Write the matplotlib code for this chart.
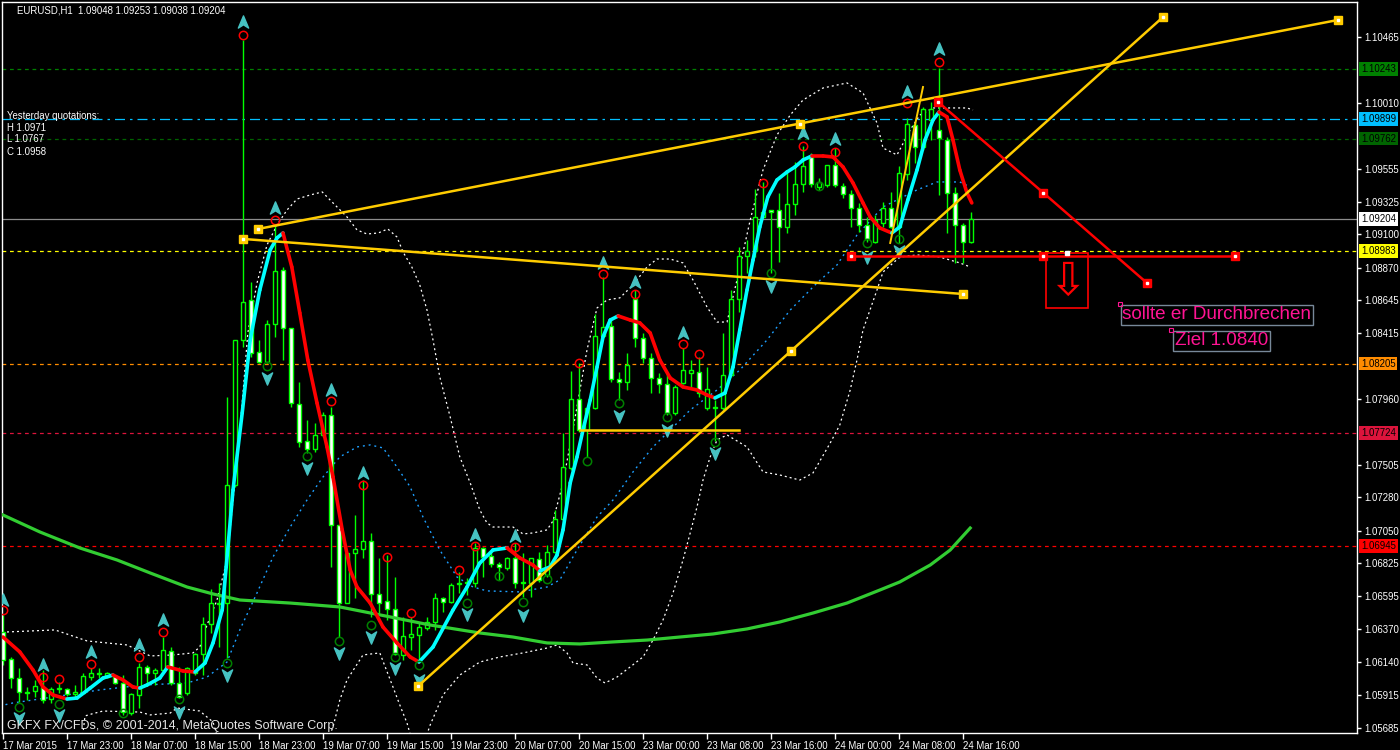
#!/usr/bin/env python3
"""
EURUSD H1 chart in MetaTrader style - candles, colour HMA, bands, trend lines.
"""

import numpy as np
import matplotlib
matplotlib.use("Agg")
import matplotlib.pyplot as plt
from matplotlib.path import Path
from matplotlib.collections import LineCollection
from matplotlib.patches import Rectangle

plt.rcParams['font.family'] = ['Liberation Sans', 'DejaVu Sans']

# 122 hourly bars, 17 Mar 15:00 -> 24 Mar 17:00
opens = [
    1.06349, 1.06162, 1.06030, 1.05934, 1.05941, 1.05968, 1.05885, 1.05954, 1.05954, 1.05920,
    1.05927, 1.06037, 1.06058, 1.06037, 1.06044, 1.05996, 1.05788, 1.05913, 1.06107, 1.06065,
    1.06086, 1.06217, 1.05996, 1.05927, 1.06065, 1.06197, 1.06404, 1.06543, 1.06549, 1.07366,
    1.08369, 1.08646, 1.08286, 1.08217, 1.08480, 1.08853, 1.08452, 1.07926, 1.07670, 1.07615,
    1.07712, 1.07850, 1.07089, 1.06549, 1.06895, 1.06923, 1.06978, 1.06612, 1.06563, 1.06508,
    1.06190, 1.06314, 1.06328, 1.06377, 1.06418, 1.06584, 1.06556, 1.06681, 1.06688, 1.06688,
    1.06930, 1.06875, 1.06819, 1.06792, 1.06861, 1.06688, 1.06688, 1.06854, 1.06743, 1.06902,
    1.07131, 1.07483, 1.07961, 1.07746, 1.07898, 1.08397, 1.08466, 1.08099, 1.08078, 1.08653,
    1.08383, 1.08244, 1.08106, 1.08064, 1.07864, 1.08071, 1.08141, 1.08147, 1.07898, 1.07898,
    1.07898, 1.08127, 1.08653, 1.08950, 1.08985, 1.09220, 1.09268, 1.09268, 1.09151, 1.09310,
    1.09448, 1.09635, 1.09427, 1.09441, 1.09580, 1.09434, 1.09379, 1.09282, 1.09164, 1.09047,
    1.09178, 1.09282, 1.09151, 1.09517, 1.09856, 1.09704, 1.09891, 1.09822, 1.09752, 1.09386,
    1.09164, 1.09048]
highs = [
    1.06466, 1.06176, 1.06100, 1.05968, 1.06017, 1.06086, 1.05968, 1.06003, 1.05961, 1.05982,
    1.06065, 1.06100, 1.06100, 1.06072, 1.06051, 1.06051, 1.05927, 1.06134, 1.06121, 1.06100,
    1.06314, 1.06245, 1.06107, 1.06107, 1.06204, 1.06453, 1.06646, 1.06688, 1.07975, 1.08369,
    1.10444, 1.08770, 1.08369, 1.08507, 1.09164, 1.08874, 1.08452, 1.08078, 1.07815, 1.07795,
    1.07871, 1.07905, 1.07089, 1.06895, 1.07158, 1.07400, 1.07034, 1.06861, 1.06881, 1.06729,
    1.06453, 1.06453, 1.06418, 1.06453, 1.06619, 1.06591, 1.06688, 1.06764, 1.06722, 1.06965,
    1.06937, 1.06902, 1.06833, 1.06868, 1.06965, 1.06895, 1.06861, 1.06902, 1.06951, 1.07193,
    1.07726, 1.08154, 1.08210, 1.07898, 1.08549, 1.08805, 1.08521, 1.08147, 1.08279, 1.08715,
    1.08417, 1.08279, 1.08141, 1.08141, 1.08057, 1.08314, 1.08231, 1.08251, 1.08182, 1.07954,
    1.08417, 1.08715, 1.09012, 1.09061, 1.09414, 1.09462, 1.09268, 1.09386, 1.09524, 1.09600,
    1.09710, 1.09663, 1.09490, 1.09580, 1.09697, 1.09455, 1.09407, 1.09317, 1.09220, 1.09234,
    1.09324, 1.09393, 1.09573, 1.09905, 1.09877, 1.09981, 1.10015, 1.10251, 1.09773, 1.09427,
    1.09178, 1.09253]
lows = [
    1.06121, 1.05961, 1.05865, 1.05878, 1.05899, 1.05858, 1.05858, 1.05927, 1.05906, 1.05892,
    1.05920, 1.06017, 1.06030, 1.06030, 1.05989, 1.05775, 1.05775, 1.05823, 1.05982, 1.05982,
    1.06065, 1.05982, 1.05892, 1.05913, 1.06051, 1.06051, 1.06342, 1.06245, 1.06169, 1.07352,
    1.08320, 1.08251, 1.08210, 1.08210, 1.08390, 1.08231, 1.07905, 1.07629, 1.07587, 1.07594,
    1.07698, 1.06799, 1.06314, 1.06549, 1.06584, 1.06861, 1.06453, 1.06480, 1.06432, 1.06190,
    1.06155, 1.06224, 1.06141, 1.06363, 1.06363, 1.06487, 1.06549, 1.06619, 1.06605, 1.06660,
    1.06729, 1.06799, 1.06709, 1.06778, 1.06653, 1.06591, 1.06591, 1.06695, 1.06729, 1.06895,
    1.07124, 1.07470, 1.07732, 1.07560, 1.07892, 1.08390, 1.08078, 1.07954, 1.08023, 1.08320,
    1.08210, 1.08002, 1.08002, 1.07850, 1.07850, 1.08064, 1.08044, 1.07975, 1.07885, 1.07670,
    1.07885, 1.08113, 1.08563, 1.08832, 1.08943, 1.09213, 1.08832, 1.08909, 1.09109, 1.09234,
    1.09393, 1.09427, 1.09407, 1.09427, 1.09427, 1.09351, 1.09151, 1.09116, 1.09047, 1.09040,
    1.09151, 1.09144, 1.09040, 1.09476, 1.09593, 1.09683, 1.09752, 1.09372, 1.09109, 1.08902,
    1.08902, 1.09038]
closes = [
    1.06155, 1.06030, 1.05934, 1.05930, 1.05975, 1.05878, 1.05954, 1.05961, 1.05920, 1.05934,
    1.06044, 1.06065, 1.06065, 1.06065, 1.05996, 1.05795, 1.05920, 1.06107, 1.06065, 1.06086,
    1.06224, 1.05996, 1.05899, 1.06100, 1.06197, 1.06404, 1.06549, 1.06549, 1.07366, 1.08369,
    1.08632, 1.08279, 1.08217, 1.08480, 1.08846, 1.08452, 1.07933, 1.07663, 1.07615, 1.07712,
    1.07850, 1.07089, 1.06549, 1.06895, 1.06923, 1.06978, 1.06612, 1.06549, 1.06508, 1.06197,
    1.06321, 1.06335, 1.06383, 1.06418, 1.06584, 1.06556, 1.06674, 1.06688, 1.06695, 1.06930,
    1.06868, 1.06819, 1.06799, 1.06861, 1.06688, 1.06695, 1.06861, 1.06709, 1.06902, 1.07131,
    1.07490, 1.07961, 1.07746, 1.07898, 1.08397, 1.08459, 1.08099, 1.08078, 1.08196, 1.08383,
    1.08244, 1.08106, 1.08064, 1.07864, 1.08044, 1.08161, 1.08161, 1.08002, 1.08030, 1.07905,
    1.08127, 1.08653, 1.08950, 1.08985, 1.09220, 1.09254, 1.09254, 1.09151, 1.09310, 1.09448,
    1.09573, 1.09448, 1.09462, 1.09580, 1.09441, 1.09379, 1.09282, 1.09164, 1.09068, 1.09199,
    1.09282, 1.09151, 1.09524, 1.09863, 1.09704, 1.09967, 1.09967, 1.09766, 1.09386, 1.09164,
    1.09047, 1.09204]

# colour HMA line (bar position, price)
hma_x = [0, 2.1, 3.75, 5, 6.25, 8, 9.25, 10.9, 12.5, 13.75,
         15, 16.25, 17.1, 18, 19.6, 20.6, 22.5, 24, 25.25, 26.25,
         27.4, 27.9, 28.75, 29.9, 30.9, 32.1, 33.4, 34.25, 35, 36.1,
         37.1, 38.1, 39.25, 40.5, 41.25, 42.4, 43.4, 44.25, 45.9, 47.5,
         49.25, 50.9, 52, 53.75, 56.25, 58, 59.6, 61.25, 63, 64.6,
         66.25, 67.1, 68.4, 69.25, 70, 70.9, 71.75, 72.5, 73.4, 74.25,
         75, 75.9, 76.9, 78.4, 79.6, 80.9, 82.1, 83.4, 85, 86.75,
         88, 89, 90.25, 91.25, 92.1, 93, 93.75, 94.6, 95.6, 96.75,
         98, 99, 100, 101.1, 102.5, 103.75, 105, 106.25, 107.5, 108.4,
         109.6, 111.1, 112.1, 113.1, 114.25, 115.25, 116.25, 117, 118, 118.75,
         119.6, 120.5, 121.1]
hma_y = [1.06314, 1.06211, 1.06086, 1.05968, 1.05913, 1.05885, 1.05892, 1.05961, 1.06030, 1.06051,
         1.06017, 1.05968, 1.05961, 1.05982, 1.06030, 1.06107, 1.06079, 1.06072, 1.06134, 1.06273,
         1.06501, 1.06799, 1.07331, 1.07864, 1.08369, 1.08715, 1.08992, 1.09075, 1.09109, 1.08874,
         1.08556, 1.08231, 1.07933, 1.07629, 1.07421, 1.07055, 1.06778, 1.06660, 1.06549, 1.06383,
         1.06273, 1.06176, 1.06141, 1.06245, 1.06501, 1.06660, 1.06826, 1.06916, 1.06930, 1.06861,
         1.06812, 1.06771, 1.06799, 1.06881, 1.07055, 1.07380, 1.07560, 1.07746, 1.07954, 1.08182,
         1.08390, 1.08507, 1.08535, 1.08507, 1.08487, 1.08417, 1.08231, 1.08106, 1.08044, 1.08023,
         1.07988, 1.07968, 1.08002, 1.08182, 1.08438, 1.08715, 1.08922, 1.09151, 1.09358, 1.09476,
         1.09531, 1.09566, 1.09614, 1.09642, 1.09642, 1.09635, 1.09566, 1.09455, 1.09317, 1.09220,
         1.09144, 1.09109, 1.09151, 1.09337, 1.09545, 1.09752, 1.09891, 1.09946, 1.09912, 1.09752,
         1.09545, 1.09386, 1.09317]

# bands (white dotted upper / lower, blue dotted middle)
upper_x = [0.5, 6.5, 10.5, 15.5, 18.4, 21.25, 23.75, 24.6, 25.5, 26.75,
           28, 29, 29.6, 30.6, 31.75, 33, 34.25, 35.5, 36.75, 38.4,
           39.9, 41.25, 43, 44.25, 45.5, 46.9, 48.1, 49.25, 50, 51.1,
           52.1, 53, 53.75, 54.6, 55.9, 57.1, 58.4, 59.6, 60.5, 61.25,
           63.75, 65, 66.25, 68, 68.75, 70, 71.75, 73, 74.25, 75.5,
           77.1, 78.75, 80.5, 81.75, 83.4, 85, 86.25, 88, 89.25, 90.5,
           91.75, 93.4, 95, 96.75, 98.4, 100, 102.5, 105.5, 107.5, 109.25,
           110, 111.75, 113.4, 114.6, 116.25, 120.5, 121.25]
upper_y = [1.06349, 1.06363, 1.06287, 1.06259, 1.06183, 1.06190, 1.06204, 1.06245, 1.06397, 1.06570,
           1.06847, 1.07400, 1.07726, 1.08417, 1.08763, 1.09026, 1.09164, 1.09268, 1.09344, 1.09372,
           1.09393, 1.09317, 1.09220, 1.09130, 1.09102, 1.09109, 1.09137, 1.09081, 1.08978, 1.08874,
           1.08749, 1.08576, 1.08369, 1.08113, 1.07836, 1.07560, 1.07380, 1.07193, 1.07103, 1.07075,
           1.07075, 1.07027, 1.07034, 1.07055, 1.07117, 1.07380, 1.07905, 1.08300, 1.08590, 1.08646,
           1.08660, 1.08749, 1.08874, 1.08929, 1.08929, 1.08902, 1.08784, 1.08597, 1.08493, 1.08493,
           1.08784, 1.09199, 1.09545, 1.09787, 1.09925, 1.10029, 1.10112, 1.10147, 1.10078, 1.09870,
           1.09697, 1.09649, 1.09822, 1.09925, 1.09974, 1.09974, 1.09960]
nan = float('nan')
lower_x = [9.9, 10.25, 11.1, 12.5, 17.1, 18.4, 20.9, 21.75, 24.6, 26.25, 27.1, nan,
           40.6, 41.25, 42.1, 43, 45, 47.1, 48.75, 49.6, 50.5, 51.1, nan,
           52.75, 53.4, 55, 57.1, 59.6, 62.1, 65, 68, 69.25, 70.5,
           71.25, 73, 74.25, 75.25, 76.75, 78.4, 80, 81.25, 82.5, 83.75,
           85, 85.9, 86.75, 87.5, 88.4, 89.25, 90.5, 93, 95, 97.1,
           99.6, 101.25, 103.4, 104.6, 105.9, 106.75, 107.5, 109.25, 110, 112.1,
           114.25, 117.1, 119.6, 120.9]
lower_y = [1.05602, 1.05768, 1.05782, 1.05802, 1.05795, 1.05775, 1.05788, 1.05823, 1.05802, 1.05726, 1.05567, nan,
           1.05602, 1.05692, 1.05878, 1.06017, 1.06190, 1.06204, 1.05968, 1.05844, 1.05719, 1.05602, nan,
           1.05602, 1.05706, 1.05913, 1.06051, 1.06141, 1.06176, 1.06204, 1.06238, 1.06259, 1.06204,
           1.06134, 1.06121, 1.06030, 1.05996, 1.06037, 1.06107, 1.06176, 1.06293, 1.06432, 1.06619,
           1.06847, 1.07034, 1.07214, 1.07400, 1.07560, 1.07677, 1.07712, 1.07629, 1.07456, 1.07435,
           1.07400, 1.07449, 1.07656, 1.07781, 1.08023, 1.08231, 1.08438, 1.08715, 1.08839, 1.08943,
           1.08957, 1.08943, 1.08902, 1.08874]
mid_x = [-0.4, 1.25, 7.1, 12.1, 17.5, 23, 25.5, 28, 29.6, 31.75,
         33.75, 35.9, 38, 40, 42.1, 44.25, 45.9, 47.5, 49.25, 50.9,
         52.5, 54.6, 56.75, 58.75, 60.5, 64.6, 68, 69.6, 71.75, 74.25,
         76.25, 78.75, 81.25, 83.4, 85.9, 89.25, 92.1, 95.5, 98.4, 101.75,
         104.25, 106.75, 110, 114.25, 116.75, 119.6, 120.9]
mid_y = [1.05837, 1.05858, 1.05906, 1.05948, 1.05982, 1.05996, 1.06037, 1.06141, 1.06363, 1.06619,
         1.06868, 1.07075, 1.07262, 1.07421, 1.07560, 1.07629, 1.07643, 1.07622, 1.07490, 1.07352,
         1.07144, 1.06916, 1.06729, 1.06660, 1.06633, 1.06626, 1.06660, 1.06709, 1.06916, 1.07144,
         1.07262, 1.07456, 1.07629, 1.07746, 1.07885, 1.08023, 1.08161, 1.08369, 1.08576, 1.08763,
         1.08888, 1.09095, 1.09289, 1.09407, 1.09462, 1.09462, 1.09427]

# slow moving average (green)
ma_x = [0, 4.6, 9.6, 14.25, 18.4, 23, 26.25, 29.6, 35.9, 42.1,
        48.4, 53.4, 59.6, 63.75, 68, 72.1, 76.25, 80.5, 84.6, 88.75,
        93, 97.1, 101.25, 105.5, 109.6, 112.1, 115.9, 118.4, 120.9]
ma_y = [1.07158, 1.07041, 1.06930, 1.06847, 1.06757, 1.06660, 1.06612, 1.06570, 1.06549, 1.06522,
        1.06453, 1.06397, 1.06342, 1.06314, 1.06273, 1.06266, 1.06280, 1.06293, 1.06314, 1.06335,
        1.06370, 1.06418, 1.06480, 1.06549, 1.06639, 1.06695, 1.06812, 1.06916, 1.07068]

# fractal marks
rc_bars = [0, 5, 7, 11, 17, 20, 30, 34, 41, 45, 48, 51, 57, 59, 64, 72, 75, 79, 85, 87, 95, 100, 104, 113, 117]
rc_price = [1.06501, 1.06037, 1.06024, 1.06128, 1.06176, 1.06349, 1.10479, 1.09199, 1.07947, 1.07366,
            1.06868, 1.06480, 1.06778, 1.06944, 1.06937, 1.08210, 1.08826, 1.08687, 1.08341, 1.08272,
            1.09455, 1.09711, 1.09669, 1.10008, 1.10292]
gc_bars = [2, 7, 15, 22, 28, 33, 38, 42, 46, 49, 52, 58, 62, 65, 68, 73, 77, 83, 89, 96, 102, 108, 112]
gc_price = [1.05830, 1.05851, 1.05788, 1.05885, 1.06134, 1.08189, 1.07566, 1.06287, 1.06397, 1.06176,
            1.06121, 1.06549, 1.06736, 1.06556, 1.06716, 1.07532, 1.07933, 1.07836, 1.07663, 1.08832,
            1.09434, 1.09040, 1.09068]
ua_bars = [0, 5, 11, 17, 20, 30, 34, 41, 45, 59, 64, 75, 79, 85, 100, 104, 113, 117]
ua_price = [1.06570, 1.06121, 1.06211, 1.06259, 1.06432, 1.10569, 1.09282, 1.08023, 1.07449, 1.07020,
            1.07013, 1.08902, 1.08770, 1.08417, 1.09801, 1.09759, 1.10085, 1.10382]
da_bars = [2, 7, 22, 28, 33, 38, 42, 46, 49, 52, 58, 65, 77, 83, 89, 96, 108, 112]
da_price = [1.05754, 1.05775, 1.05795, 1.06051, 1.08106, 1.07483, 1.06204, 1.06314, 1.06100, 1.06017,
            1.06473, 1.06466, 1.07843, 1.07746, 1.07587, 1.08742, 1.08943, 1.08985]

# horizontal levels and their price boxes
level_prices = [1.10243, 1.09899, 1.09762, 1.09204, 1.08983, 1.08205, 1.07724, 1.06945]
level_colors = ['#008000', '#00BFFF', '#006400', '#8C8C8C', '#FFFF00', '#FF8C00', '#DC143C', '#FF0000']
level_box = ['#008000', '#00BFFF', '#006400', '#FFFFFF', '#FFFF00', '#FF8C00', '#DC143C', '#FF0000']
level_styles = [(0, (3, 3)), (0, (8, 4, 2, 4)), (0, (3, 3)), '-', (0, (3, 3)), (0, (3, 3)), (0, (3, 3)), (0, (3, 3))]

# trend lines (bar, price)
upper_tl_x = [31.9, 99.6, 166.9]
upper_tl_y = [1.09137, 1.09866, 1.10583]
desc_tl_x = [30, 120]
desc_tl_y = [1.09068, 1.08687]
asc_tl_x = [51.9, 98.5, 145]
asc_tl_y = [1.05975, 1.08293, 1.10603]
flat_tl_x = [72.1, 92]
flat_tl_y = [1.07746, 1.07746]
steep_tl_x = [110.9, 115]
steep_tl_y = [1.09040, 1.10119]
red_h_x = [106, 130, 154]
red_h_y = [1.08953, 1.08953, 1.08953]
red_d_x = [116.9, 130, 143]
red_d_y = [1.10015, 1.09389, 1.08763]

x_tick_bars = [0, 8, 16, 24, 32, 40, 48, 56, 64, 72, 80, 88, 96, 104, 112, 120]
x_tick_labels = ['17 Mar 2015', '17 Mar 23:00', '18 Mar 07:00', '18 Mar 15:00', '18 Mar 23:00',
                 '19 Mar 07:00', '19 Mar 15:00', '19 Mar 23:00', '20 Mar 07:00', '20 Mar 15:00',
                 '23 Mar 00:00', '23 Mar 08:00', '23 Mar 16:00', '24 Mar 00:00', '24 Mar 08:00',
                 '24 Mar 16:00']
y_tick_vals = [1.10465, 1.10010, 1.09555, 1.09325, 1.09100, 1.08870, 1.08645, 1.08415, 1.07960,
               1.07505, 1.07280, 1.07050, 1.06825, 1.06595, 1.06370, 1.06140, 1.05915, 1.05685]

LIME = '#00FF00'
GOLD = '#FFCC00'
TURQ = '#46C2C2'
FS = 6.9

fig = plt.figure(figsize=(14, 7.5), dpi=100, facecolor='black')
ax = fig.add_axes([2 / 1400, 17 / 750, 1355 / 1400, 731 / 750])
ax.set_facecolor('black')
ax.set_xlim(-0.125, 169.25)
ax.set_ylim(1.05650, 1.10707)

# levels
for p, c, ls in zip(level_prices, level_colors, level_styles):
    ax.axhline(p, color=c, ls=ls, lw=0.9, zorder=1)

# bands
ax.plot(upper_x, upper_y, color='white', ls=(0, (1.6, 2.4)), lw=0.9, zorder=1.5)
ax.plot(lower_x, lower_y, color='white', ls=(0, (1.6, 2.4)), lw=0.9, zorder=1.5)
ax.plot(mid_x, mid_y, color='#1EA0FF', ls=(0, (1.4, 2.8)), lw=1.0, zorder=1.5)

# candles
o = np.array(opens)
h = np.array(highs)
l = np.array(lows)
c = np.array(closes)
bars = np.arange(len(o))
bull = c >= o
ax.vlines(bars, l, h, color=LIME, lw=1, zorder=2)
ax.bar(bars, np.abs(c - o), bottom=np.minimum(o, c), width=0.62,
       color=np.where(bull, 'black', 'white'), edgecolor=LIME, linewidth=1, zorder=3)

# slow MA
ax.plot(ma_x, ma_y, color='#32CD32', lw=2.3, zorder=4)

# colour HMA: cyan rising, red falling
pts = np.column_stack([hma_x, hma_y])
segs = np.stack([pts[:-1], pts[1:]], axis=1)
cols = ['#00FFFF' if b > a else '#FF0000' for a, b in zip(hma_y[:-1], hma_y[1:])]
ax.add_collection(LineCollection(segs, colors=cols, linewidths=2.6, capstyle='round', zorder=5))

# fractal marks
codes = [Path.MOVETO, Path.LINETO, Path.LINETO, Path.LINETO, Path.CLOSEPOLY]
up_arrow = Path([(0, 1), (0.78, -0.85), (0, -0.35), (-0.78, -0.85), (0, 1)], codes)
down_arrow = Path([(0, -1), (0.78, 0.85), (0, 0.35), (-0.78, 0.85), (0, -1)], codes)
ax.plot(ua_bars, ua_price, ls='none', marker=up_arrow, ms=9.5, color=TURQ, zorder=6)
ax.plot(da_bars, da_price, ls='none', marker=down_arrow, ms=9.5, color=TURQ, zorder=6)
ax.plot(rc_bars, rc_price, ls='none', marker='o', ms=6, mfc='none', mec='#FF0000', mew=1.1, zorder=6)
ax.plot(gc_bars, gc_price, ls='none', marker='o', ms=6, mfc='none', mec='#008000', mew=1.1, zorder=6)


def anchors(xs, ys, col):
    ax.plot(xs, ys, ls='none', marker='s', ms=5.5, color=col, zorder=8)
    ax.plot(xs, ys, ls='none', marker='s', ms=1.8, color='white', zorder=9)


# trend lines
for xs, ys in [(upper_tl_x, upper_tl_y), (desc_tl_x, desc_tl_y), (asc_tl_x, asc_tl_y)]:
    ax.plot(xs, ys, color=GOLD, lw=1.8, zorder=7)
    anchors(xs, ys, GOLD)
ax.plot(flat_tl_x, flat_tl_y, color=GOLD, lw=1.8, zorder=7)
ax.plot(steep_tl_x, steep_tl_y, color=GOLD, lw=1.4, zorder=7)
for xs, ys in [(red_h_x, red_h_y), (red_d_x, red_d_y)]:
    ax.plot(xs, ys, color='#FF0000', lw=1.8, zorder=7)
    anchors(xs, ys, '#FF0000')

# red box with down arrow
ax.add_patch(Rectangle((130.4, 1.08590), 5.2, 0.00381, fill=False, ec='#FF0000', lw=1.2, zorder=7))
ax.plot([133.0], [1.08971], ls='none', marker='s', ms=2.5, color='white', zorder=9)
ax.text(133.0, 1.08770, '\u21e9', color='#FF0000', fontsize=33, family='DejaVu Sans',
        ha='center', va='center', zorder=8)

# annotations
ax.text(139.9, 1.08542, 'sollte er Durchbrechen', color='#FF1493', fontsize=13.6, ha='left', va='center',
        bbox=dict(fc='black', ec='#778899', lw=1, pad=1.2), zorder=9)
ax.text(146.5, 1.08362, 'Ziel 1.0840', color='#FF1493', fontsize=13.6, ha='left', va='center',
        bbox=dict(fc='black', ec='#778899', lw=1, pad=1.2), zorder=9)
ax.plot([139.6, 146.0], [1.08618, 1.08438], ls='none', marker='s', ms=2.5, mfc='none',
        mec='#FF1493', mew=0.8, zorder=10)

# texts
ax.text(0.0111, 0.9877, 'EURUSD,H1  1.09048 1.09253 1.09038 1.09204', color='white', fontsize=FS,
        transform=ax.transAxes, ha='left', va='center', zorder=10)
for txt, yy in [('Yesterday quotations:', 0.844), ('H 1.0971', 0.8276), ('L 1.0767', 0.8126),
                ('C 1.0958', 0.7948)]:
    ax.text(0.0037, yy, txt, color='white', fontsize=FS, transform=ax.transAxes,
            ha='left', va='center', zorder=10)
ax.text(0.0037, 0.0096, 'GKFX FX/CFDs, \u00a9 2001-2014, MetaQuotes Software Corp.', color='#E6E6E6',
        fontsize=9, transform=ax.transAxes, ha='left', va='center', zorder=10)

# price boxes on the right scale
for p, bg in zip(level_prices, level_box):
    ax.text(1 + 4 / 1355, p, f'{p:.5f}', transform=ax.get_yaxis_transform(), fontsize=FS,
            color='black', ha='left', va='center', clip_on=False, zorder=10,
            bbox=dict(fc=bg, ec='none', pad=1.3))

# axes
ax.yaxis.tick_right()
ax.set_yticks(y_tick_vals)
ax.set_yticklabels([f'{v:.5f}' for v in y_tick_vals])
ax.tick_params(axis='y', colors='white', length=3, width=1, pad=2.5, labelsize=FS)
ax.set_xticks(x_tick_bars)
ax.set_xticklabels(x_tick_labels)
ax.tick_params(axis='x', colors='white', length=4, width=1, pad=1.5, labelsize=FS)
for t in ax.get_xticklabels():
    t.set_horizontalalignment('left')
for s in ax.spines.values():
    s.set_color('white')
    s.set_linewidth(1)

fig.savefig('out.png', dpi=100, facecolor='black')
